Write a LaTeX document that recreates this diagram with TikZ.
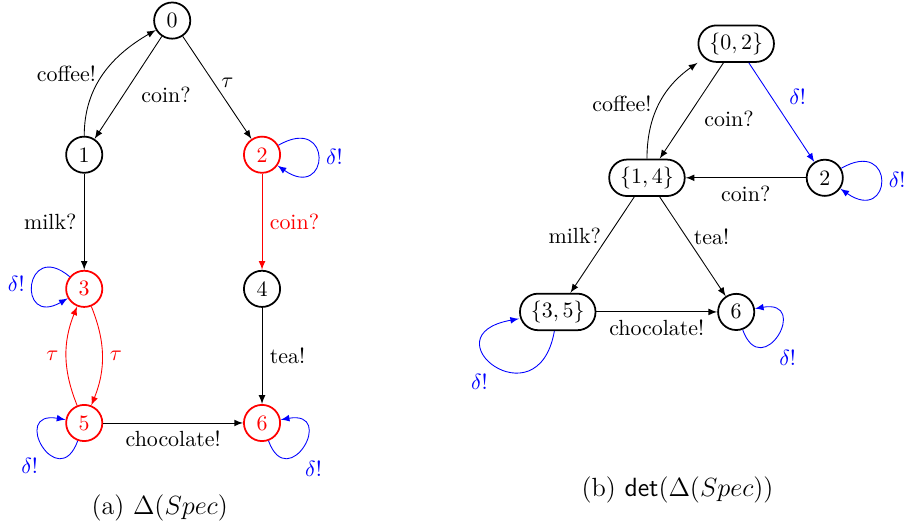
\documentclass[tikz,border=0pt]{standalone}
\usetikzlibrary{arrows}
\begin{document}
\begin{tikzpicture}[
  stnode/.style={circle,draw,thick,minimum size=0.58cm,inner sep=0pt},
  setnode/.style={draw,thick,rounded corners=0.29cm,minimum height=0.58cm,inner xsep=5pt},
  tr/.style={-latex},
  bad/.style={red},
  dl/.style={-latex,blue}]
  \useasboundingbox (0,0) rectangle (14.49,8.46);
  % (a) the suspension automaton
  \node[stnode] (n0) at (2.76,8.13) {0};
  \node[stnode] (n1) at (1.35,5.98) {1};
  \node[stnode,bad] (n2) at (4.20,5.98) {2};
  \node[stnode,bad] (n3) at (1.35,3.83) {3};
  \node[stnode] (n4) at (4.20,3.83) {4};
  \node[stnode,bad] (n5) at (1.35,1.68) {5};
  \node[stnode,bad] (n6) at (4.20,1.68) {6};
  \draw[tr] (n0) -- (n1) node[pos=0.42,below right] (la1) {coin?};
  \draw[tr] (n1.north) to[out=90,in=210] node[midway,left] (la2) {coffee!} (n0);
  \draw[tr] (n0) -- (n2) node[pos=0.45,right] (la3) {$\tau$};
  \draw[dl] (n2) to[out=30,in=-35,looseness=8] node[right] (la4) {$\delta!$} (n2);
  \draw[tr,bad] (n2) -- (n4) node[midway,right] (la5) {coin?};
  \draw[tr] (n1) -- (n3) node[midway,left] (la6) {milk?};
  \draw[dl] (n3) to[out=140,in=-150,looseness=7] node[left] (la7) {$\delta!$} (n3);
  \draw[tr,bad] (n3) to[bend left=22] node[right] (la8) {$\tau$} (n5);
  \draw[tr,bad] (n5) to[bend left=22] node[left] (la9) {$\tau$} (n3);
  \draw[tr] (n4) -- (n6) node[midway,right] (la10) {tea!};
  \draw[tr] (n5) -- (n6) node[midway,below] (la11) {chocolate!};
  \draw[dl] (n5) to[out=-110,in=170,looseness=6] node[pos=0.45,below left] (la12) {$\delta!$} (n5);
  \draw[dl] (n6) to[out=-70,in=10,looseness=6] node[pos=0.4,below right] (la13) {$\delta!$} (n6);
  \node[font=\large] (capa) at (2.56,0.32) {(a) $\Delta(Spec)$};
  % (b) its determinisation
  \node[setnode] (d02) at (11.80,7.76) {$\{0,2\}$};
  \node[setnode] (d14) at (10.37,5.61) {$\{1,4\}$};
  \node[stnode] (d2) at (13.22,5.61) {2};
  \node[setnode] (d35) at (8.94,3.46) {$\{3,5\}$};
  \node[stnode] (d6) at (11.80,3.46) {6};
  \draw[tr] (d02) -- (d14) node[pos=0.42,below right] (lb1) {coin?};
  \draw[tr] (d14.north) to[out=90,in=215] node[midway,left] (lb2) {coffee!} (d02.south west);
  \draw[dl] (d02) -- (d2) node[midway,above right] (lb3) {$\delta!$};
  \draw[tr] (d2) -- (d14) node[midway,below] (lb4) {coin?};
  \draw[dl] (d2) to[out=30,in=-35,looseness=8] node[right] (lb5) {$\delta!$} (d2);
  \draw[tr] (d14) -- (d35) node[pos=0.4,left] (lb6) {milk?};
  \draw[tr] (d14) -- (d6) node[pos=0.4,right] (lb7) {tea!};
  \draw[tr] (d35) -- (d6) node[midway,below] (lb8) {chocolate!};
  \draw[dl] (d35.-100) to[out=-100,in=190,looseness=6.5] node[pos=0.5,below left] (lb9) {$\delta!$} (d35.190);
  \draw[dl] (d6) to[out=-70,in=10,looseness=6] node[pos=0.4,below right] (lb10) {$\delta!$} (d6);
  \node[font=\large] (capb) at (10.86,0.61) {(b) $\mathsf{det}(\Delta(Spec))$};
\end{tikzpicture}
\end{document}
